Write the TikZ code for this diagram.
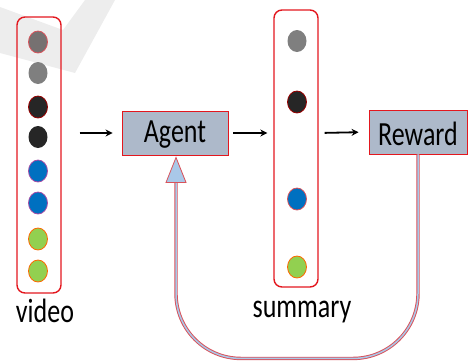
\documentclass[tikz,border=0pt]{standalone}
\usepackage{fontspec}
\setmainfont{Carlito}
\usetikzlibrary{shapes.geometric,arrows.meta,calc}
\definecolor{boxred}{HTML}{E3171E}
\definecolor{boxfill}{HTML}{ADB9CA}
\definecolor{dotgray}{HTML}{767171}
\definecolor{dotgrayb}{HTML}{7F7F7F}
\definecolor{dotblack}{HTML}{262626}
\definecolor{dotblue}{HTML}{0070C0}
\definecolor{dotgreen}{HTML}{92D050}
\definecolor{fbblue}{HTML}{A9C8E8}
\definecolor{fbred}{HTML}{D9525A}
\definecolor{wmgray}{HTML}{EDEDED}
\newcommand{\tallt}[1]{\scalebox{1}[1.3]{#1}}
\tikzset{
  colbox/.style={draw=boxred, line width=1.4pt, rounded corners=8pt},
  dot/.style={ellipse, minimum width=19pt, minimum height=22pt, inner sep=0pt, line width=0.8pt},
  agbox/.style={draw=boxred, line width=0.9pt, fill=boxfill, inner sep=0pt},
  lbl/.style={font=\fontsize{26}{30}\selectfont, inner sep=0pt},
  flow/.style={-{Stealth[length=7pt,width=7pt]}, line width=1.8pt, black},
  fb/.style={draw=fbred, line width=3.4pt},
  fbin/.style={draw=fbblue, line width=1.5pt},
}
\begin{document}
\begin{tikzpicture}[x=1pt,y=-1pt]
\useasboundingbox (0,0) rectangle (470,360);
% faint watermark
\fill[wmgray] (0,7) -- (63,30) -- (85,0) -- (115,0) -- (75,73) -- (0,53) -- cycle;

% video column
\node[colbox, minimum width=44pt, minimum height=276pt, inner sep=0pt] (video) at (39,155) {};
\node[dot, fill=dotgray, draw=fbred] (v1) at (38,42) {};
\node[dot, fill=dotgrayb] (v2) at (38,73) {};
\node[dot, fill=dotblack, draw=red!60!black] (v3) at (38,107) {};
\node[dot, fill=dotblack] (v4) at (38,137) {};
\node[dot, fill=dotblue, draw=violet!70] (v5) at (38,171) {};
\node[dot, fill=dotblue, draw=violet!70] (v6) at (38,203) {};
\node[dot, fill=dotgreen, draw=orange!80!red] (v7) at (38,239) {};
\node[dot, fill=dotgreen, draw=orange!80!red] (v8) at (38,271) {};
\node[lbl] (vlabel) at (45,311) {\tallt{video}};

% agent
\node[agbox, minimum width=106pt, minimum height=44pt] (agent) at (175,133) {};
\node[lbl] (agenttext) at ($(agent.center)+(0,2)$) {\tallt{Agent}};

% summary column
\node[colbox, minimum width=44pt, minimum height=277pt, inner sep=0pt] (summary) at (296,148.5) {};
\node[dot, fill=dotgrayb] (s1) at (297,41) {};
\node[dot, fill=dotblack, draw=red!60!black] (s2) at (297,102) {};
\node[dot, fill=dotblue, draw=fbred] (s3) at (297,199) {};
\node[dot, fill=dotgreen, draw=orange!80!red] (s4) at (297,267) {};
\node[lbl] (slabel) at (302,312) {\tallt{summary}};

% reward
\node[agbox, minimum width=98pt, minimum height=44pt] (reward) at (418,132) {};
\node[lbl] (rewardtext) at ($(reward.center)+(0,2)$) {\tallt{Reward}};

% flow arrows
\draw[flow, shorten <=18pt, shorten >=9pt] (video.east |- agent.west) -- (agent.west);
\draw[flow, shorten <=5pt, shorten >=6pt] (agent.east) -- (agent.east -| summary.west);
\draw[flow, shorten <=6pt, shorten >=10pt] (agent.east -| summary.east) -- (reward.west);

% feedback loop
\coordinate (fbend) at ($(agent.south)+(1,27)$);
\coordinate (fbtip) at ($(agent.south)+(1,2)$);
\foreach \s in {fb,fbin}{
  \draw[\s, rounded corners=65pt] (reward.south) -- ($(reward.south)+(0,204)$) -- ($(fbend)+(0,176)$) -- (fbend);
}
\filldraw[fill=fbblue, draw=fbred, line width=0.8pt, line join=miter]
  (fbtip) -- ($(fbend)+(10,0)$) -- ($(fbend)+(-10,0)$) -- cycle;
\end{tikzpicture}
\end{document}
